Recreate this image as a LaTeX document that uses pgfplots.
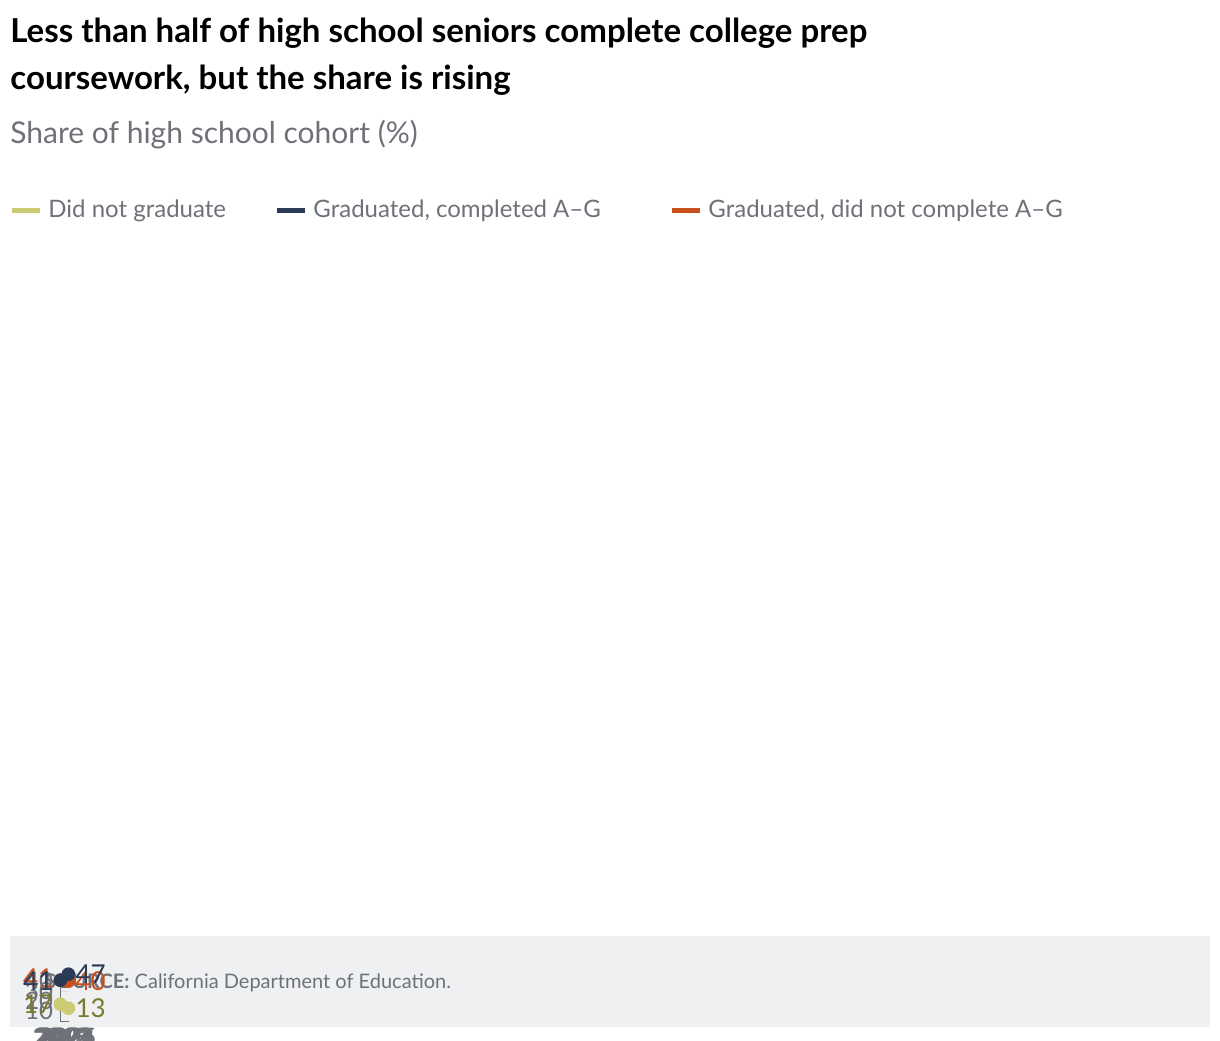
\documentclass[border=0pt]{standalone}
\usepackage{pgfplots}
\pgfplotsset{compat=1.18}
\usepackage{fontspec}
\setmainfont{Lato}
\definecolor{ygr}{HTML}{CBCB72}
\definecolor{ygt}{HTML}{7A7A2A}
\definecolor{navy}{HTML}{2B3A55}
\definecolor{org}{HTML}{C9501C}
\definecolor{gtx}{HTML}{6E7178}
\definecolor{grd}{HTML}{DDDDDD}
\definecolor{srcbg}{HTML}{EFF0F2}
\begin{document}
\begin{tikzpicture}[x=0.5pt,y=0.5pt]
\path[use as bounding box] (0,0) rectangle (1220,1040);
\fill[srcbg] (10,13) rectangle (1210,104);
\node[anchor=west,font=\fontsize{10}{12}\selectfont,text=gtx] at (38,57) {\textbf{SOURCE:} California Department of Education.};
\node[anchor=north west,align=left,font=\fontsize{16.5}{23.5}\selectfont\bfseries,inner sep=0pt] at (10,1022) {Less than half of high school seniors complete college prep\\coursework, but the share is rising};
\node[anchor=west,font=\fontsize{15}{18}\selectfont,text=gtx,inner sep=0pt] at (10,905) {Share of high school cohort (\%)};
\begin{scope}[font=\fontsize{12}{14}\selectfont,text=gtx]
\draw[ygr,line width=2.5pt] (12,829)--(40,829); \node[anchor=west,inner sep=0pt] at (48,829) {Did not graduate};
\draw[navy,line width=2.5pt] (277,829)--(305,829); \node[anchor=west,inner sep=0pt] at (313,829) {Graduated, completed A--G};
\draw[org,line width=2.5pt] (672,829)--(700,829); \node[anchor=west,inner sep=0pt] at (708,829) {Graduated, did not complete A--G};
\end{scope}
\begin{axis}[at={(60,188)},anchor=origin,x=0.5pt,y=0.5pt,
 scale only axis,width=560pt,height=301pt,
 xmin=2016.61,xmax=2025.16,ymin=0,ymax=47.2,
 axis lines*=left,axis line style={gtx},
 xtick={2017,...,2025},ytick={10,20,30,40},
 xticklabel style={/pgf/number format/1000 sep={}},
 tick style={draw=none},
 ymajorgrids,grid style={grd},
 ticklabel style={font=\fontsize{12}{14}\selectfont,text=gtx},
 /pgf/number format/assume math mode=true,
 clip=false]
\addplot[ygr,line width=2.5pt] coordinates {(2017,17)(2018,17)(2019,16)(2020,16)(2021,16)(2022,13)(2023,14)(2024,14)(2025,13)};
\addplot[navy,line width=2.5pt] coordinates {(2017,41)(2018,41)(2019,43)(2020,43)(2021,44)(2022,45)(2023,45)(2024,45)(2025,47)};
\addplot[org,line width=2.5pt] coordinates {(2017,41)(2018,42)(2019,42)(2020,41)(2021,40)(2022,42)(2023,41)(2024,42)(2025,40)};
\addplot[only marks,mark=*,ygr,mark size=3.2pt] coordinates {(2017,17)(2025,13)};
\addplot[only marks,mark=*,org,mark size=3.2pt] coordinates {(2017,41)(2025,40)};
\addplot[only marks,mark=*,navy,mark size=3.2pt] coordinates {(2017,41)(2025,47)};
\begin{scope}[font=\fontsize{13}{15}\selectfont]
\node[text=ygt,anchor=east] at (axis cs:2016.9,17) {17};
\node[text=ygt,anchor=west] at (axis cs:2025.1,13) {13};
\node[text=org,anchor=east] at (axis cs:2016.9,43.5) {41};
\node[text=navy,anchor=east] at (axis cs:2016.9,40) {41};
\node[text=org,anchor=west] at (axis cs:2025.1,40) {40};
\node[text=navy,anchor=west] at (axis cs:2025.1,47) {47};
\end{scope}
\end{axis}
\end{tikzpicture}
\end{document}
